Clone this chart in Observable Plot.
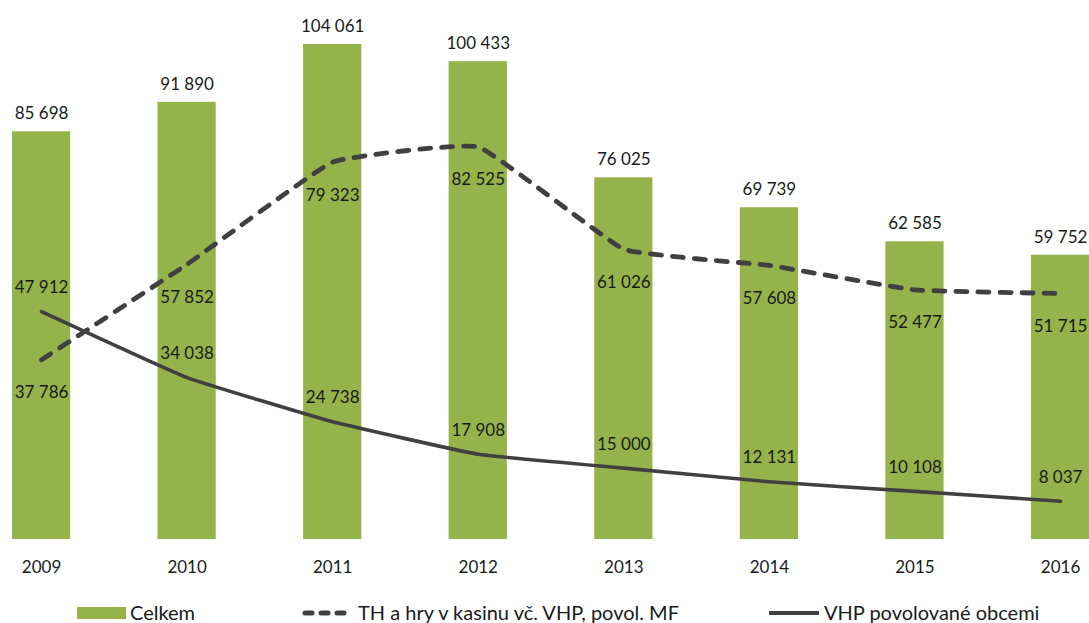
<!DOCTYPE html>
<html>
<head>
<meta charset="utf-8">
<script src="https://cdn.jsdelivr.net/npm/d3@7"></script>
<script src="https://cdn.jsdelivr.net/npm/@observablehq/plot@0.6"></script>
<style>
  html, body { margin: 0; padding: 0; background: #fff; overflow: hidden; }
  #wrap { position: relative; width: 1089px; height: 623px; font-family: Lato, "Open Sans", sans-serif; }
  #legend { position: absolute; left: 0; top: 602px; width: 1089px; height: 21px; font-size: 20px; line-height: 21px; color: #1a1a1a; }
  .item { position: absolute; top: 0; display: flex; align-items: center; white-space: nowrap; }
  .sw { display: inline-block; margin-right: 4px; }
</style>
</head>
<body>
<div id="wrap">
  <div id="chart"></div>
  <div id="legend"></div>
</div>
<script>
const years = [2009, 2010, 2011, 2012, 2013, 2014, 2015, 2016];
const celkem = [85698, 91890, 104061, 100433, 76025, 69739, 62585, 59752];
const thKasino = [37786, 57852, 79323, 82525, 61026, 57608, 52477, 51715];
const vhpObce = [47912, 34038, 24738, 17908, 15000, 12131, 10108, 8037];
const seriesNames = ["Celkem", "TH a hry v kasinu vč. VHP, povol. MF", "VHP povolované obcemi"];

const fmt = v => d3.format(",")(v).replace(/,/g, " ");

const bars = years.map((y, i) => ({year: y, value: celkem[i]}));
const dashed = years.map((y, i) => ({year: y, value: thKasino[i]}));
const solid = years.map((y, i) => ({year: y, value: vhpObce[i]}));

const green = "#95B34B";
const dark = "#404040";
const halfBar = 0.2;

const chart = Plot.plot({
  width: 1089,
  height: 590,
  marginTop: 0,
  marginBottom: 51,
  marginLeft: 0,
  marginRight: 0,
  style: {fontFamily: "Lato, 'Open Sans', sans-serif", fontSize: "17px", color: "#1a1a1a", background: "transparent"},
  x: {type: "linear", domain: [2008.718, 2016.199], label: null},
  y: {domain: [0, 113300], axis: null},
  marks: [
    Plot.rectY(bars, {x1: d => d.year - halfBar, x2: d => d.year + halfBar, y1: 0, y2: "value", fill: green}),
    Plot.text(bars, {x: "year", y: "value", text: d => fmt(d.value), dy: -18, fontSize: 17, fill: "#1a1a1a"}),
    Plot.line(dashed, {x: "year", y: "value", stroke: dark, strokeWidth: 4.8, strokeDasharray: "11,11", strokeLinecap: "round", curve: "cardinal", tension: 0.7}),
    Plot.line(solid, {x: "year", y: "value", stroke: dark, strokeWidth: 3.6, curve: "cardinal", tension: 0.7}),
    Plot.text(dashed, {x: "year", y: "value", text: d => fmt(d.value), dy: 33, fontSize: 17, fill: "#1a1a1a"}),
    Plot.text(solid, {x: "year", y: "value", text: d => fmt(d.value), dy: -24, fontSize: 17, fill: "#1a1a1a"}),
    Plot.axisX({ticks: years, tickSize: 0, tickPadding: 21, tickFormat: d => String(d), fontSize: 17, fill: "#1a1a1a", label: null})
  ]
});
document.getElementById("chart").appendChild(chart);

const legend = document.getElementById("legend");
const items = [
  {left: 77, swatch: `<span class="sw" style="width:49px;height:12px;background:${green}"></span>`},
  {left: 302, swatch: `<svg class="sw" width="52" height="10"><line x1="3" y1="5" x2="49" y2="5" stroke="${dark}" stroke-width="5" stroke-linecap="round" stroke-dasharray="7,9"/></svg>`},
  {left: 768, swatch: `<svg class="sw" width="52" height="10"><line x1="1" y1="5" x2="51" y2="5" stroke="${dark}" stroke-width="4"/></svg>`}
];
items.forEach((it, i) => {
  const div = document.createElement("div");
  div.className = "item";
  div.style.left = it.left + "px";
  div.innerHTML = it.swatch + `<span>${seriesNames[i]}</span>`;
  legend.appendChild(div);
});
</script>
</body>
</html>
